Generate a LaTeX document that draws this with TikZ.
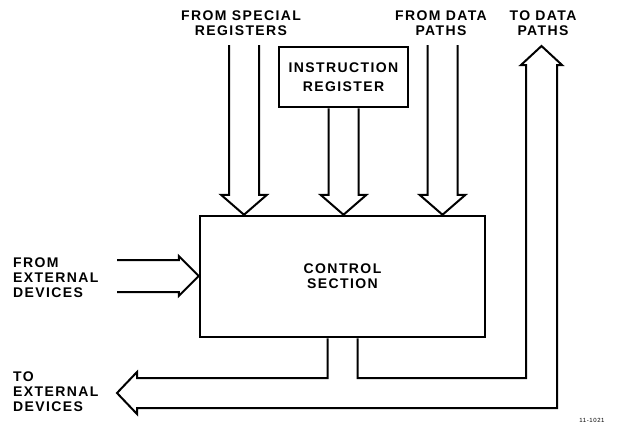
\documentclass[tikz,border=0pt]{standalone}
\usepackage{fontspec}
\setmainfont{Liberation Sans}[LetterSpace=10]
\usetikzlibrary{calc}

\begin{document}
\begin{tikzpicture}[x=1pt,y=-1pt]
% estilos de linea y texto
\tikzstyle{hueca} = [line width=2pt,line join=miter]
\tikzstyle{caja} = [draw,line width=2.5pt,inner sep=0pt]
\tikzstyle{rotulo} = [font=\fontsize{14}{15}\selectfont\bfseries,align=center,inner sep=0pt]
\useasboundingbox (0,0) rectangle (621,434);
% flecha hueca hacia abajo
% #1: punto inicial ()
% #2: punta de la flecha ()
% #3: semiancho del cuerpo
% #4: semiancho de la cabeza
\newcommand{\flechaaba}[4]{
\draw [hueca] ($#1+(-#3,0)$) -- ($#2+(-#3,-20)$) -- ($#2+(-#4,-20)$) -- #2
 -- ($#2+(#4,-20)$) -- ($#2+(#3,-20)$) -- ($#1+(#3,0)$);
 }
% flecha hueca hacia la derecha
% #1: punto inicial ()
% #2: punta de la flecha ()
% #3: semiancho del cuerpo
% #4: semiancho de la cabeza
\newcommand{\flechader}[4]{
\draw [hueca] ($#1+(0,-#3)$) -- ($#2+(-20,-#3)$) -- ($#2+(-20,-#4)$) -- #2
 -- ($#2+(-20,#4)$) -- ($#2+(-20,#3)$) -- ($#1+(0,#3)$);
 }
% dibujar cajas
\node[caja,rotulo,minimum width=285pt,minimum height=121pt] (ctrl) at (342.5,276.5) {CONTROL\\SECTION};
\node[caja,rotulo,font=\fontsize{14}{19}\selectfont\bfseries,minimum width=129pt,minimum height=60pt] (ir) at (343.5,77) {INSTRUCTION\\REGISTER};
% puntos de entrada
\coordinate (esp) at (244,45);
\coordinate (dat) at (442.5,45);
\coordinate (ext) at (117,276);
% dibujar flechas de entrada
\flechaaba{(esp)}{(esp |- ctrl.north)}{15}{23}
\flechaaba{(ir.south)}{(ir.south |- ctrl.north)}{15}{23}
\flechaaba{(dat)}{(dat |- ctrl.north)}{15}{23}
\flechader{(ext)}{(ext -| ctrl.west)}{16}{20}
% dibujar bus de salida
\draw [hueca] ($(ctrl.south)+(-15,0)$) |- (137,378) -- (137,372) -- (117,393)
 -- (137,414) -- (137,408) -| (557,65) -- (562,65) -- (541.5,46) -- (521,65)
 -- (526,65) -- (526,378) -| ($(ctrl.south)+(15,0)$);
% dibujar rotulos
\node[rotulo] (tesp) at (241,23.5) {FROM SPECIAL\\REGISTERS};
\node[rotulo] (tdat) at (441,23.5) {FROM DATA\\PATHS};
\node[rotulo] (tsdat) at (543,23.5) {TO DATA\\PATHS};
\node[rotulo,align=left,anchor=west] (tent) at (13,277.5) {FROM\\EXTERNAL\\DEVICES};
\node[rotulo,align=left,anchor=west] (tsext) at (13,392) {TO\\EXTERNAL\\DEVICES};
\node[font=\fontsize{6}{7}\selectfont,inner sep=0pt] (fig) at (592,420) {11-1021};
\end{tikzpicture}
\end{document}
